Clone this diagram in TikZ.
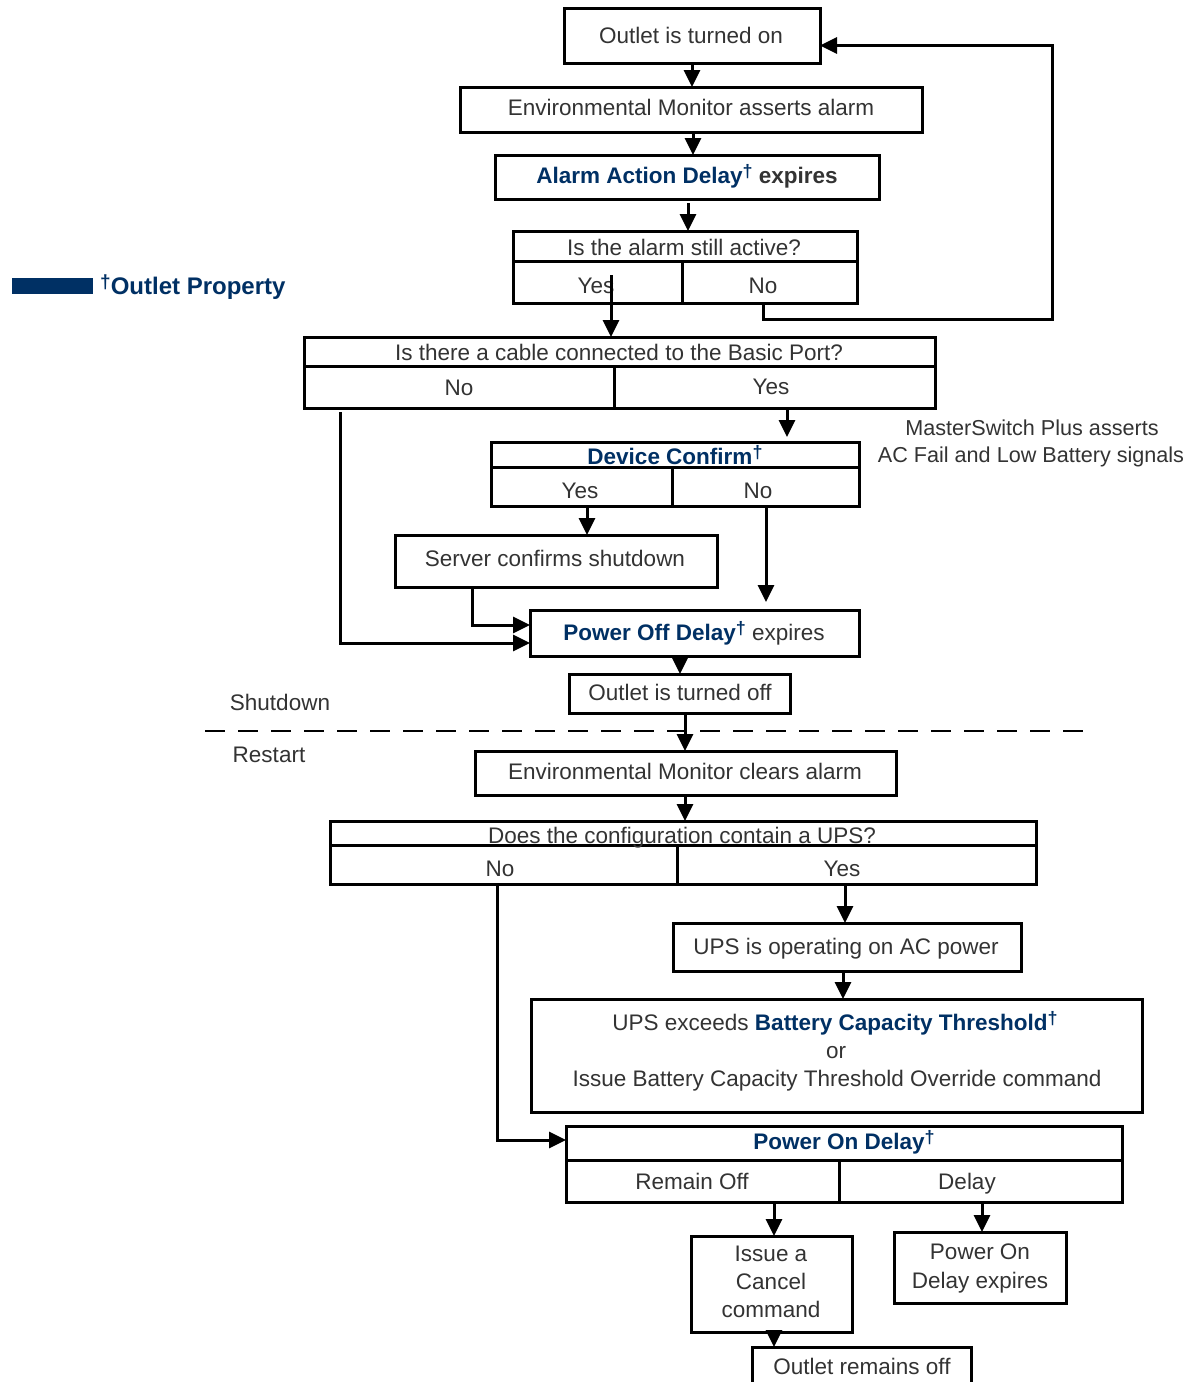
\documentclass[tikz,border=0pt]{standalone}
\usepackage{fontspec}
\setmainfont{Liberation Sans}
\usetikzlibrary{arrows.meta}
\definecolor{tgray}{RGB}{51,51,51}
\definecolor{apcblue}{RGB}{0,48,100}
\newcommand\dg{\raisebox{6pt}{\fontsize{18}{18}\selectfont\bfseries\textcolor{apcblue}{†}}}
\newcommand\bl[1]{\textcolor{apcblue}{\bfseries #1}}
\newcommand\bxcell[5]{\node[bx,minimum width={(#4)-(#2)},minimum height={(#5)-(#3)}] (#1) at ({((#2)+(#4))/2},{((#3)+(#5))/2}) {};}
\begin{document}
\begin{tikzpicture}[x=1pt,y=-1pt,
  bx/.style={draw=black,line width=3pt,inner sep=0pt,outer sep=0pt},
  txt/.style={inner sep=0pt,text height=16pt,text depth=0pt,text=tgray,font=\fontsize{22.5}{27}\selectfont},
  arr/.style={line width=3pt,-{Triangle[length=17pt,width=16pt]}},
  dashsep/.style={line width=2pt,dash pattern=on 20pt off 13pt}]
\fill[white] (0,0) rectangle (1197,1382);
\clip (0,0) rectangle (1197,1382);
% boxes
\bxcell{n1}{564}{8}{820}{63}
\bxcell{n2}{460}{87}{922}{132}
\bxcell{n3}{495}{155}{879}{199}
\bxcell{q1t}{513}{231}{857}{261}
\bxcell{q1y}{513}{261}{682}{303}
\bxcell{q1n}{682}{261}{857}{303}
\bxcell{q2t}{304}{337}{935}{366}
\bxcell{q2n}{304}{366}{614}{408}
\bxcell{q2y}{614}{366}{935}{408}
\bxcell{dct}{491}{442}{859}{467}
\bxcell{dcy}{491}{467}{672}{506}
\bxcell{dcn}{672}{467}{859}{506}
\bxcell{srv}{395}{535}{717}{587}
\bxcell{pod}{530}{610}{859}{656}
\bxcell{off}{569}{674}{790}{713}
\bxcell{clr}{475}{751}{896}{795}
\bxcell{q3t}{330}{821}{1036}{845}
\bxcell{q3n}{330}{845}{677}{884}
\bxcell{q3y}{677}{845}{1036}{884}
\bxcell{ac}{673}{923}{1021}{971}
\bxcell{bct}{531}{999}{1142}{1112}
\bxcell{pont}{566}{1126}{1122}{1160}
\bxcell{ponr}{566}{1160}{839}{1202}
\bxcell{pond}{839}{1160}{1122}{1202}
\bxcell{cancel}{691}{1236}{852}{1332}
\bxcell{pode}{894}{1232}{1066}{1303}
\bxcell{rem}{752}{1347}{971}{1420}
% texts
\node[txt] (t1) at (691,35) {Outlet is turned on};
\node[txt] (t2) at (691,107) {Environmental Monitor asserts alarm};
\node[txt] (t3) at (687,175) {\bfseries\bl{Alarm Action Delay}\dg{} expires};
\node[txt] (t4) at (684,247) {Is the alarm still active?};
\node[txt] (t4y) at (596,285) {Yes};
\node[txt] (t4n) at (763,285) {No};
\node[txt] (t5) at (619,352) {Is there a cable connected to the Basic Port?};
\node[txt] (t5n) at (459,387) {No};
\node[txt] (t5y) at (771,386) {Yes};
\node[txt,font=\fontsize{21.6}{27}\selectfont] (tm1) at (1032,427) {MasterSwitch Plus asserts};
\node[txt,font=\fontsize{21.6}{27}\selectfont] (tm2) at (1031,454) {AC Fail and Low Battery signals};
\node[txt] (t6) at (675,456) {\bl{Device Confirm}\dg};
\node[txt] (t6y) at (580,490) {Yes};
\node[txt] (t6n) at (758,490) {No};
\node[txt] (t7) at (555,558) {Server confirms shutdown};
\node[txt] (t8) at (694,632) {\bl{Power Off Delay}\dg{} expires};
\node[txt] (t9) at (680,692) {Outlet is turned off};
\node[txt] (tsd) at (280,702) {Shutdown};
\node[txt] (trs) at (269,754) {Restart};
\node[txt] (t10) at (685,771) {Environmental Monitor clears alarm};
\node[txt] (t11) at (682,835) {Does the configuration contain a UPS?};
\node[txt] (t11n) at (500,868) {No};
\node[txt] (t11y) at (842,868) {Yes};
\node[txt] (t12) at (846,946) {UPS is operating on AC power};
\node[txt] (t13a) at (835,1022) {UPS exceeds \bl{Battery Capacity Threshold}\dg};
\node[txt] (t13b) at (836,1050) {or};
\node[txt] (t13c) at (837,1078) {Issue Battery Capacity Threshold Override command};
\node[txt] (t14) at (844,1141) {\bl{Power On Delay}\dg};
\node[txt] (t14r) at (692,1181) {Remain Off};
\node[txt] (t14d) at (967,1181) {Delay};
\node[txt] (t15a) at (771,1253) {Issue a};
\node[txt] (t15b) at (771,1281) {Cancel};
\node[txt] (t15c) at (771,1309) {command};
\node[txt] (t16a) at (980,1251) {Power On};
\node[txt] (t16b) at (980,1280) {Delay expires};
\node[txt] (t17) at (862,1366) {Outlet remains off};
% legend
\fill[apcblue] (12,278) rectangle (93,294);
\node[txt,anchor=west,text height=17pt,font=\fontsize{24}{28}\selectfont\bfseries,text=apcblue] (leg) at (100,286) {\raisebox{6pt}{\fontsize{19}{19}\selectfont †}Outlet Property};
% separator
\coordinate (dL) at (205,731);
\coordinate (dR) at (1092,731);
\draw[dashsep] (dL) -- (dR);
% x guides
\coordinate (x611) at (611,0);
\coordinate (x763) at (763,0);
\coordinate (x1052) at (1052,319);
\coordinate (x340) at (340,0);
\coordinate (x787) at (787,0);
\coordinate (x587) at (587,0);
\coordinate (x766) at (766,0);
\coordinate (x472) at (472,0);
\coordinate (x680) at (680,0);
\coordinate (x685) at (685,0);
\coordinate (x497) at (497,0);
\coordinate (x845) at (845,0);
\coordinate (x843) at (843,0);
\coordinate (x774) at (774,0);
\coordinate (x982) at (982,0);
% connectors
\draw[arr] (n1.south) -- (n1.south |- n2.north);
\draw[arr] ([xshift=2pt]n2.south) -- ([xshift=2pt]n2.south |- n3.north);
\draw[arr] ([xshift=1pt,yshift=-4pt]n3.south) -- ([xshift=1pt]n3.south |- q1t.north);
\draw[arr] ([yshift=7pt]x611 |- q1y.center) -- (x611 |- q2t.north);
\draw[arr] (x763 |- q1n.south) |- (x1052) |- ([yshift=-10pt]n1.east);
\draw[arr] ([yshift=-4pt]x340 |- q2n.south) |- ([yshift=-10pt]pod.west);
\draw[arr,shorten >=5pt] (x787 |- q2y.south) -- (x787 |- dct.north);
\draw[arr] (x587 |- dcy.south) -- (x587 |- srv.north);
\draw[arr,shorten >=8pt] (x766 |- dcn.south) -- (x766 |- pod.north);
\draw[arr] (x472 |- srv.south) |- ([yshift=8pt]pod.west);
\draw[arr] (x680 |- pod.south) -- (x680 |- off.north);
\draw[arr] (x685 |- off.south) -- (x685 |- clr.north);
\draw[arr] (x685 |- clr.south) -- (x685 |- q3t.north);
\draw[arr] (x497 |- q3n.south) |- ([yshift=3pt]pont.west);
\draw[arr] (x845 |- q3y.south) -- (x845 |- ac.north);
\draw[arr] (x843 |- ac.south) -- (x843 |- bct.north);
\draw[arr] (x774 |- ponr.south) -- (x774 |- cancel.north);
\draw[arr] (x982 |- pond.south) -- (x982 |- pode.north);
\draw[arr] (x774 |- cancel.south) -- (x774 |- rem.north);
\end{tikzpicture}
\end{document}
